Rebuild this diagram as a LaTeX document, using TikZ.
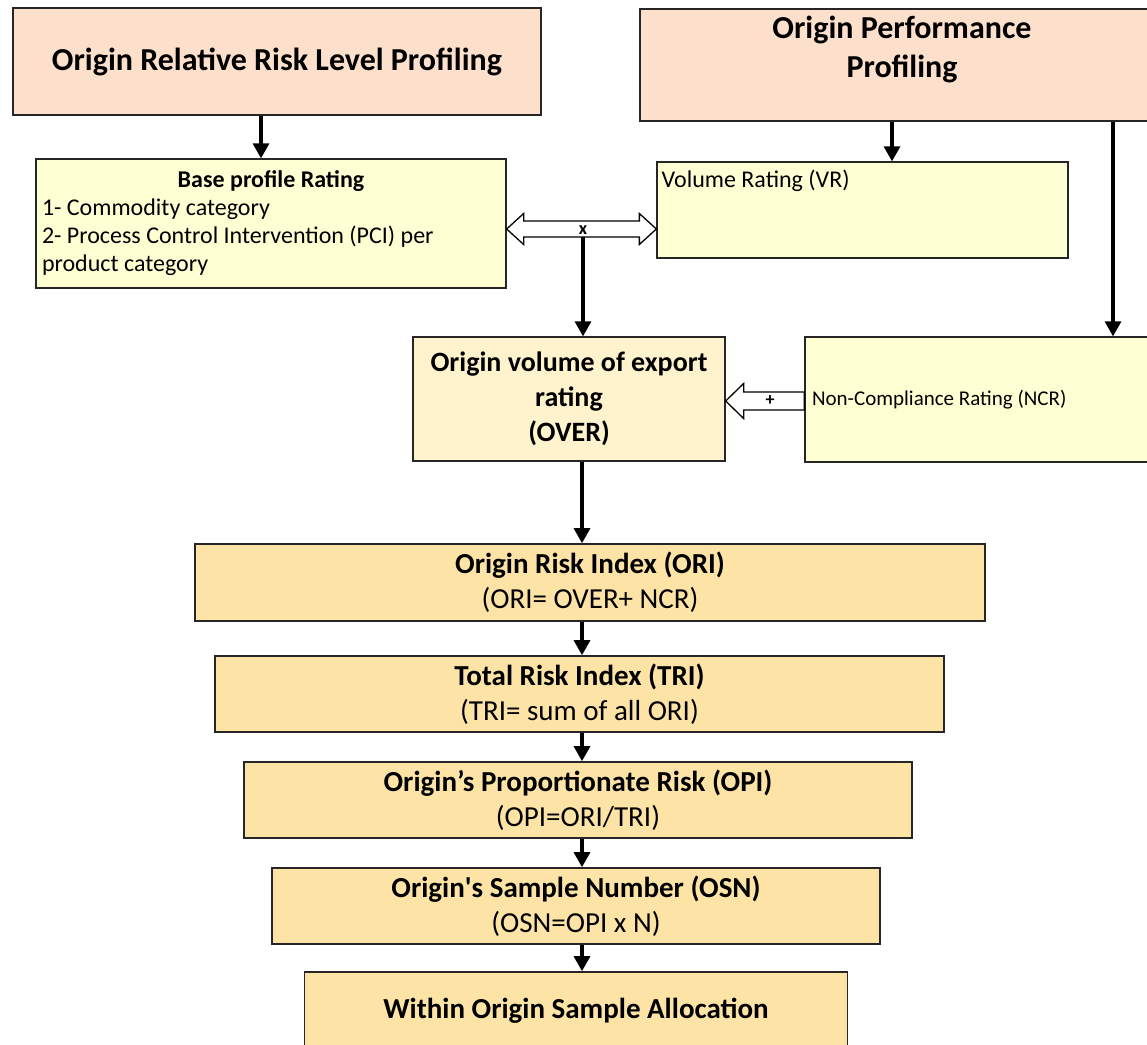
\documentclass[tikz,border=0pt]{standalone}
\usepackage{fontspec}
\setmainfont{Carlito}
\usetikzlibrary{arrows.meta}

\definecolor{peach}{RGB}{252,224,204}
\definecolor{paleyellow}{RGB}{255,255,212}
\definecolor{cream}{RGB}{255,243,206}
\definecolor{apricot}{RGB}{253,228,166}

\begin{document}
\begin{tikzpicture}[x=1pt,y=-1pt,
    headbox/.style={draw=black!85,line width=1.8pt,fill=peach,inner sep=0pt},
    headtext/.style={align=center,inner sep=0pt,font=\fontsize{32}{39}\selectfont\bfseries},
    ratebox/.style={draw=black!85,line width=1.3pt,fill=paleyellow,inner sep=0pt},
    ratetext/.style={inner sep=0pt,font=\fontsize{24}{28}\selectfont},
    overbox/.style={draw=black!85,line width=1.3pt,fill=cream,align=center,inner sep=0pt,font=\fontsize{28}{35}\selectfont\bfseries},
    stepbox/.style={draw=black!85,line width=1.6pt,fill=apricot,align=center,inner sep=0pt,font=\fontsize{29}{35}\selectfont},
    flow/.style={line width=3.2pt,-{Triangle[length=15pt,width=16pt]}},
    hollow/.style={draw=black,line width=1.3pt,fill=white},
    sign/.style={inner sep=0pt,font=\fontsize{18}{18}\selectfont\bfseries}]
      % \draw[help lines] (0,0) grid[step=50] (1147,1044);
      \useasboundingbox (0,0) rectangle (1147,1044);

      \draw (277,61.5) node[headbox,minimum width=528pt,minimum height=107pt,headtext] (relrisk) {Origin Relative Risk Level Profiling};
      \draw (902,65) node[headbox,minimum width=524pt,minimum height=112pt,
          label={[headtext,yshift=16pt]center:Origin Performance\\Profiling}] (perf) {};

      \draw (271,223.5) node[ratebox,minimum width=470pt,minimum height=129pt,text width=458pt,align=flush left,font=\fontsize{24}{28}\selectfont] (base)
          {\makebox[\linewidth]{\bfseries Base profile Rating}\\1- Commodity category\\2- Process Control Intervention (PCI) per\\product category};
      \draw (862.5,210) node[ratebox,minimum width=411pt,minimum height=96pt,
          label={[ratetext,anchor=north west,xshift=5pt,yshift=-8pt]north west:Volume Rating (VR)}] (vol) {};
      \draw (985,399.5) node[ratebox,minimum width=360pt,minimum height=125pt,text width=346pt,align=flush left,font=\fontsize{21}{25}\selectfont] (ncr) {Non-Compliance Rating (NCR)};

      \draw (569,399) node[overbox,minimum width=312pt,minimum height=124pt] (over) {Origin volume of export\\rating\\(OVER)};

      \draw (590,582.5) node[stepbox,minimum width=790pt,minimum height=77pt] (ori) {\textbf{Origin Risk Index (ORI)}\\(ORI= OVER+ NCR)};
      \draw (579.5,694) node[stepbox,minimum width=729pt,minimum height=76pt] (tri) {\textbf{Total Risk Index (TRI)}\\(TRI= sum of all ORI)};
      \draw (578,800) node[stepbox,minimum width=668pt,minimum height=76pt] (opi) {\textbf{Origin’s Proportionate Risk (OPI)}\\(OPI=ORI/TRI)};
      \draw (576,906) node[stepbox,minimum width=608pt,minimum height=76pt] (osn) {\textbf{Origin\textquotesingle s Sample Number (OSN)}\\(OSN=OPI x N)};
      \draw (576,1011) node[stepbox,minimum width=543pt,minimum height=78pt] (alloc) {\textbf{Within Origin Sample Allocation}};

      % hollow block arrows (shifts are canvas: + is up)
      \coordinate (ltip) at (base.east |- 0,229);
      \coordinate (rtip) at (vol.west |- 0,229);
      \draw[hollow] (ltip) -- ([xshift=17pt,yshift=15.5pt]ltip) -- ([xshift=17pt,yshift=8pt]ltip)
          -- ([xshift=-17pt,yshift=8pt]rtip) -- ([xshift=-17pt,yshift=15.5pt]rtip) -- (rtip)
          -- ([xshift=-17pt,yshift=-15.5pt]rtip) -- ([xshift=-17pt,yshift=-8pt]rtip)
          -- ([xshift=17pt,yshift=-8pt]ltip) -- ([xshift=17pt,yshift=-15.5pt]ltip) -- cycle;
      \draw (583,230) node[sign] (times) {x};

      \coordinate (ptip) at (over.east |- 0,401);
      \coordinate (ptail) at (ncr.west |- 0,401);
      \draw[hollow] ([yshift=9pt]ptail) -- ([xshift=18pt,yshift=9pt]ptip) -- ([xshift=18pt,yshift=17.5pt]ptip) -- (ptip)
          -- ([xshift=18pt,yshift=-17.5pt]ptip) -- ([xshift=18pt,yshift=-9pt]ptip) -- ([yshift=-9pt]ptail) -- cycle;
      \draw (770,401) node[sign] (plus) {+};

      % flow arrows
      \coordinate (spine) at (582,0);
      \draw[flow] ([xshift=-16pt]relrisk.south) -- ([xshift=-16pt]relrisk.south |- base.north);
      \draw[flow] ([xshift=-10pt]perf.south) -- ([xshift=-10pt]perf.south |- vol.north);
      \draw[flow] ([xshift=211pt]perf.south) -- ([xshift=211pt]perf.south |- ncr.north);
      \draw[flow] ([yshift=-7pt]times.center) -- (times |- over.north);
      \draw[flow] (over.south -| spine) -- (ori.north -| spine);
      \draw[flow] (ori.south -| spine) -- (tri.north -| spine);
      \draw[flow] (tri.south -| spine) -- (opi.north -| spine);
      \draw[flow] (opi.south -| spine) -- (osn.north -| spine);
      \draw[flow] (osn.south -| spine) -- (alloc.north -| spine);
\end{tikzpicture}
\end{document}
